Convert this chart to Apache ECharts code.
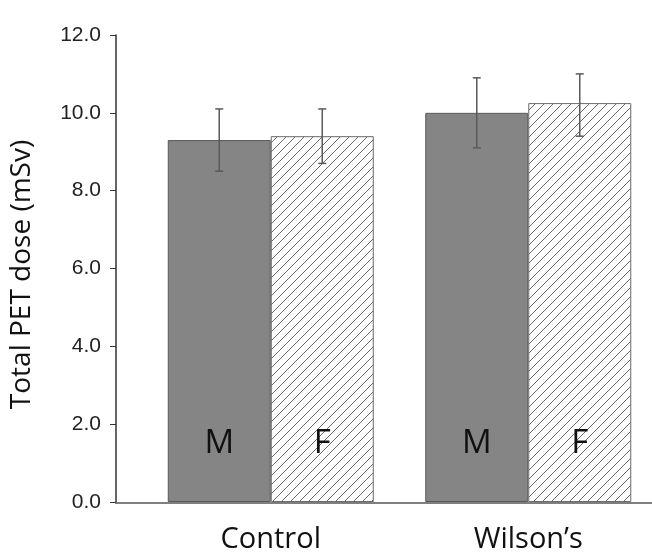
<!DOCTYPE html>
<html>
<head>
<meta charset="utf-8">
<script src="https://cdn.jsdelivr.net/npm/echarts@6/dist/echarts.min.js"></script>
<style>
html, body { margin: 0; padding: 0; background: #fff; overflow: hidden; }
#main { width: 662px; height: 554px; }
</style>
</head>
<body>
<div id="main"></div>
<script>
var categories = ['Control', 'Wilson\u2019s'];
var maleMean = [9.3, 10.0];
var femaleMean = [9.4, 10.25];
var maleLow = [8.5, 9.1];
var maleHigh = [10.1, 10.9];
var femaleLow = [8.7, 9.4];
var femaleHigh = [10.1, 11.0];
var yMin = 0, yMax = 12, yStep = 2;

var BAR_W = 103;

// diagonal hatch for the F bars
function hatchCanvas() {
    var s = 9;
    var c = document.createElement('canvas');
    c.width = s; c.height = s;
    var ctx = c.getContext('2d');
    ctx.fillStyle = '#fff';
    ctx.fillRect(0, 0, s, s);
    ctx.strokeStyle = '#6a6a6a';
    ctx.lineWidth = 1;
    ctx.beginPath();
    ctx.moveTo(0, s); ctx.lineTo(s, 0);
    ctx.moveTo(-1, 1); ctx.lineTo(1, -1);
    ctx.moveTo(s - 1, s + 1); ctx.lineTo(s + 1, s - 1);
    ctx.stroke();
    return c;
}

function errData(low, high) {
    return low.map(function (v, i) { return [i, v, high[i]]; });
}

function errRender(shift) {
    return function (params, api) {
        var lo = api.coord([api.value(0), api.value(1)]);
        var hi = api.coord([api.value(0), api.value(2)]);
        var x = lo[0] + shift;
        var cap = 4;
        var style = { stroke: '#5a5a5a', lineWidth: 1.5 };
        return {
            type: 'group',
            children: [
                { type: 'line', shape: { x1: x, y1: hi[1], x2: x, y2: lo[1] }, style: style },
                { type: 'line', shape: { x1: x - cap, y1: hi[1], x2: x + cap, y2: hi[1] }, style: style },
                { type: 'line', shape: { x1: x - cap, y1: lo[1], x2: x + cap, y2: lo[1] }, style: style }
            ]
        };
    };
}

var myChart = echarts.init(document.getElementById('main'));

var option = {
    animation: false,
    backgroundColor: '#fff',
    grid: { left: 141, right: 5, top: 35, bottom: 51 },
    xAxis: {
        type: 'category',
        data: categories,
        axisLine: { show: false },
        axisTick: { show: false },
        axisLabel: {
            margin: 23,
            fontSize: 29,
            fontFamily: 'Open Sans',
            color: '#111'
        }
    },
    yAxis: {
        type: 'value',
        min: yMin,
        max: yMax,
        interval: yStep,
        offset: 26,
        name: 'Total PET dose (mSv)',
        nameLocation: 'middle',
        nameGap: 80,
        nameTextStyle: { fontSize: 28, fontFamily: 'Open Sans', color: '#111', padding: [0, 12, 0, 0] },
        axisLine: { show: true, lineStyle: { color: '#333', width: 1.5 } },
        axisTick: { show: true, length: 6, lineStyle: { color: '#333' } },
        splitLine: { show: false },
        axisLabel: {
            margin: 15,
            fontSize: 21,
            fontFamily: 'Liberation Sans',
            color: '#222',
            formatter: function (v) { return v.toFixed(1); }
        }
    },
    // baseline: runs from the y axis to the right edge
    graphic: [{
        type: 'line',
        z: 1,
        shape: { x1: 115, y1: 503, x2: 652, y2: 503 },
        style: { stroke: '#555', lineWidth: 1.5 }
    }],
    series: [
        {
            name: 'M',
            type: 'bar',
            data: maleMean,
            barWidth: BAR_W,
            barGap: '0%',
            itemStyle: { color: '#858585', borderColor: '#5a5a5a', borderWidth: 1 },
            label: {
                show: true, position: 'insideBottom', distance: 42,
                formatter: 'M', fontSize: 33, fontFamily: 'Open Sans', color: '#111'
            }
        },
        {
            name: 'F',
            type: 'bar',
            data: femaleMean,
            barWidth: BAR_W,
            barGap: '0%',
            itemStyle: {
                color: { image: hatchCanvas(), repeat: 'repeat' },
                borderColor: '#6a6a6a', borderWidth: 1
            },
            label: {
                show: true, position: 'insideBottom', distance: 42,
                formatter: 'F', fontSize: 33, fontFamily: 'Open Sans', color: '#111'
            }
        },
        {
            type: 'custom',
            data: errData(maleLow, maleHigh),
            encode: { x: 0, y: [1, 2] },
            renderItem: errRender(-BAR_W / 2),
            z: 5
        },
        {
            type: 'custom',
            data: errData(femaleLow, femaleHigh),
            encode: { x: 0, y: [1, 2] },
            renderItem: errRender(BAR_W / 2),
            z: 5
        }
    ]
};

myChart.setOption(option);
</script>
</body>
</html>
